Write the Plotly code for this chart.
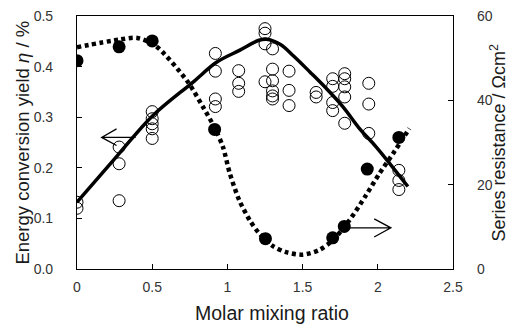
import plotly.graph_objects as go

# Open circles: energy conversion yield (left axis)
eta_x = [0, 0,
         0.28, 0.28, 0.28,
         0.5, 0.5, 0.5, 0.5, 0.5,
         0.92, 0.92, 0.92, 0.92,
         1.075, 1.075, 1.075,
         1.25, 1.25, 1.25, 1.25,
         1.30, 1.30, 1.30, 1.30, 1.30, 1.30,
         1.41, 1.41, 1.41,
         1.59, 1.59,
         1.70, 1.70, 1.70, 1.70,
         1.78, 1.78, 1.78, 1.78, 1.78,
         1.94, 1.94, 1.94,
         2.14, 2.14, 2.14]
eta_y = [0.132, 0.120,
         0.241, 0.208, 0.135,
         0.311, 0.297, 0.287, 0.277, 0.258,
         0.426, 0.391, 0.336, 0.321,
         0.392, 0.367, 0.351,
         0.475, 0.466, 0.445, 0.370,
         0.435, 0.395, 0.372, 0.352, 0.342, 0.336,
         0.391, 0.353, 0.323,
         0.349, 0.340,
         0.376, 0.361, 0.329, 0.313,
         0.386, 0.376, 0.360, 0.340, 0.288,
         0.367, 0.326, 0.268,
         0.195, 0.175, 0.157]

# Filled circles: series resistance (right axis)
res_x = [0, 0.28, 0.50, 0.915, 1.253, 1.70, 1.777, 1.93, 2.14]
res_y = [49.4, 52.7, 54.1, 33.1, 7.2, 7.4, 10.1, 23.7, 31.2]

# Fitted curve for yield (solid)
fit_eta_x = [0, 0.26, 0.5, 0.77, 0.93, 1.08, 1.21, 1.26, 1.35, 1.44, 1.55,
             1.66, 1.77, 1.88, 1.99, 2.2]
fit_eta_y = [0.132, 0.221, 0.302, 0.369, 0.409, 0.432, 0.452, 0.454, 0.444,
             0.421, 0.389, 0.356, 0.320, 0.277, 0.241, 0.163]

# Fitted curve for resistance (dotted)
fit_res_x = [0, 0.28, 0.4, 0.52, 0.73, 0.84, 0.915, 0.97, 1.015, 1.08, 1.15,
             1.21, 1.3, 1.39, 1.5, 1.61, 1.70, 1.81, 1.92, 2.01, 2.10, 2.21]
fit_res_y = [52.6, 54.4, 54.8, 53.0, 44.7, 38.3, 33.5, 29.0, 22.8, 16.2, 11.5,
             8.5, 5.5, 4.0, 3.4, 4.5, 6.8, 11.5, 17.4, 22.6, 27.3, 33.3]

x_ticks = [0, 0.5, 1, 1.5, 2, 2.5]
x_tick_labels = ["0", "0.5", "1", "1.5", "2", "2.5"]
y_ticks = [0.0, 0.1, 0.2, 0.3, 0.4, 0.5]
y_tick_labels = ["0.0", "0.1", "0.2", "0.3", "0.4", "0.5"]
y2_ticks = [0, 20, 40, 60]
y2_tick_labels = ["0", "20", "40", "60"]

FONT = "Liberation Sans, Arial, sans-serif"
INK = "#1a1a1a"

fig = go.Figure()

fig.add_trace(go.Scatter(
    x=fit_res_x, y=fit_res_y, yaxis="y2", mode="lines",
    line=dict(color="black", width=4.5, dash="4px,3.5px", shape="spline", smoothing=0.8),
    hoverinfo="skip", showlegend=False))

fig.add_trace(go.Scatter(
    x=eta_x, y=eta_y, mode="markers",
    marker=dict(symbol="circle-open", size=12, color="black", line=dict(width=1, color="black")),
    showlegend=False))

fig.add_trace(go.Scatter(
    x=fit_eta_x, y=fit_eta_y, mode="lines",
    line=dict(color="black", width=3.5, shape="spline", smoothing=1.0),
    hoverinfo="skip", showlegend=False))

fig.add_trace(go.Scatter(
    x=res_x, y=res_y, yaxis="y2", mode="markers",
    marker=dict(symbol="circle", size=13, color="black"),
    showlegend=False))

# Open arrows pointing to each axis
arrow_style = dict(type="path", line=dict(color="black", width=1.3))
fig.add_shape(path="M 0.39,0.260 L 0.164,0.260 M 0.263,0.277 L 0.164,0.260 L 0.263,0.244",
              xref="x", yref="y", **arrow_style)
fig.add_shape(path="M 1.81,9.76 L 2.087,9.76 M 1.976,11.9 L 2.087,9.76 L 1.976,7.6",
              xref="x", yref="y2", **arrow_style)

axis_common = dict(
    showline=True, linecolor="black", linewidth=1.2,
    ticks="inside", ticklen=5, tickwidth=1, tickcolor="black",
    showgrid=False, zeroline=False, automargin=False,
    tickfont=dict(family=FONT, size=14, color="#333333"),
)

fig.update_layout(
    width=508, height=324,
    margin=dict(l=77, r=55, t=16, b=55, pad=0),
    paper_bgcolor="white", plot_bgcolor="white",
    font=dict(family=FONT, color=INK),
    showlegend=False,
    xaxis=dict(range=[0, 2.5], tickvals=x_ticks, ticktext=x_tick_labels,
               mirror=True, ticklabelstandoff=5,
               **axis_common),
    yaxis=dict(range=[0, 0.5], tickvals=y_ticks, ticktext=y_tick_labels,
               ticklabelstandoff=20,
               **axis_common),
    yaxis2=dict(range=[0, 60], tickvals=y2_ticks, ticktext=y2_tick_labels,
                overlaying="y", side="right", ticklabelstandoff=20,
                **axis_common),
    annotations=[
        dict(text="Molar mixing ratio", xref="paper", yref="paper",
             x=0.519, y=-0.123, xanchor="center", yanchor="top", showarrow=False,
             font=dict(family=FONT, size=19.5, color=INK)),
        dict(text="Energy conversion yield <i>η</i> / %", xref="paper", yref="paper",
             x=-0.146, y=0.5, xanchor="center", yanchor="middle", textangle=-90,
             showarrow=False, font=dict(family=FONT, size=18.5, color=INK)),
        dict(text="Series resistance / Ωcm<sup>2</sup>", xref="paper", yref="paper",
             x=1.12, y=0.5, xanchor="center", yanchor="middle", textangle=-90,
             showarrow=False, font=dict(family=FONT, size=18, color=INK)),
    ],
)

fig.write_html("out.html", config={"displayModeBar": False},
               post_script="document.body.style.margin='0';")
